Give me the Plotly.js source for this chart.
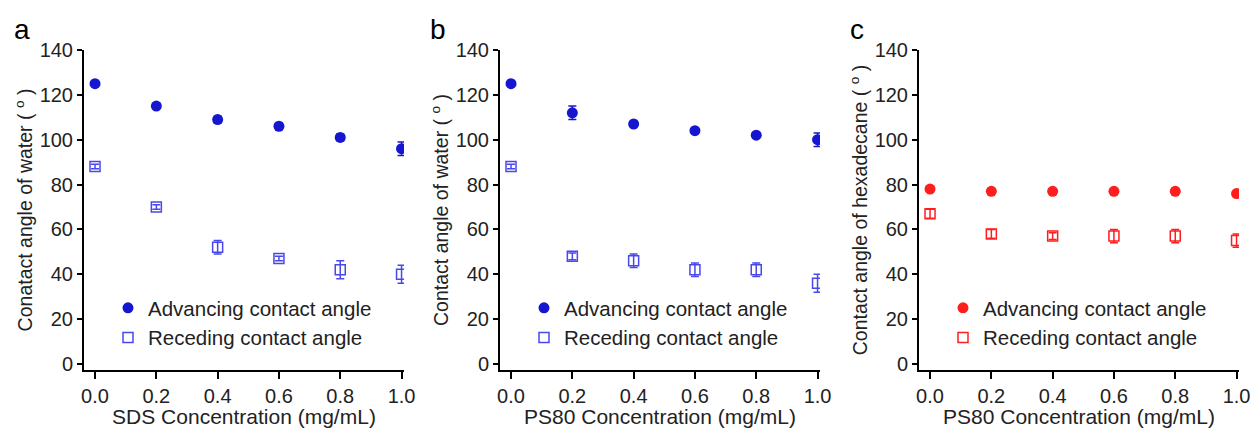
<!DOCTYPE html>
<html>
<head>
<meta charset="utf-8">
<script src="https://cdn.plot.ly/plotly-3.0.1.min.js"></script>
<style>html,body{margin:0;padding:0;background:#fff}#chart{width:1254px;height:428px}</style>
</head>
<body>
<div id="chart"></div>
<script>
// concentrations (mg/mL)
const conc = [0.0, 0.2, 0.4, 0.6, 0.8, 1.0];

// panel a: SDS, water
const aAdv    = [125, 115, 109, 106, 101, 96];
const aAdvErr = [1, 1, 1.5, 1.5, 1.5, 3];
const aRec    = [88, 70, 52, 47, 42, 40];
const aRecErr = [1, 1, 3, 1, 4, 4];

// panel b: PS80, water
const bAdv    = [125, 112, 107, 104, 102, 100];
const bAdvErr = [1, 3, 1, 1, 1, 3];
const bRec    = [88, 48, 46, 42, 42, 36];
const bRecErr = [1, 1.5, 3, 3, 3, 4];

// panel c: PS80, hexadecane
const cAdv    = [78, 77, 77, 77, 77, 76];
const cAdvErr = [1, 1, 1, 1, 1, 1];
const cRec    = [67, 58, 57, 57, 57, 55];
const cRecErr = [2, 2, 1.5, 3, 3, 3];

const xTitles = ["SDS Concentration (mg/mL)", "PS80 Concentration (mg/mL)", "PS80 Concentration (mg/mL)"];
const yTitles = ["Conatact angle of water ( <sup>o</sup> )", "Contact angle of water ( <sup>o</sup> )", "Contact angle of hexadecane ( <sup>o</sup> )"];
const panelLetters = ["a", "b", "c"];
const advName = "Advancing contact angle";
const recName = "Receding contact angle";

const blueAdv = "rgb(22,22,208)";
const blueRec = "rgb(72,72,236)";
const redCol = "rgb(255,30,30)";

const W = 1254, H = 428;
const FONT = "Liberation Sans, Arial, sans-serif";
const TXT = "#222";
const panelsPx = [[84, 404], [500, 820], [919, 1239]];
const yTopPx = 50, yBotPx = 370;

const panels = [
  {adv: aAdv, advErr: aAdvErr, rec: aRec, recErr: aRecErr, cAdv: blueAdv, cRec: blueRec},
  {adv: bAdv, advErr: bAdvErr, rec: bRec, recErr: bRecErr, cAdv: blueAdv, cRec: blueRec},
  {adv: cAdv, advErr: cAdvErr, rec: cRec, recErr: cRecErr, cAdv: redCol, cRec: redCol}
];

const traces = [];
const layout = {
  width: W, height: H,
  margin: {l: 0, r: 0, t: 0, b: 0},
  paper_bgcolor: "#fff", plot_bgcolor: "rgba(0,0,0,0)",
  font: {family: FONT, size: 20, color: TXT},
  showlegend: true,
  annotations: []
};

panels.forEach((p, i) => {
  const n = i === 0 ? "" : String(i + 1);
  const xa = "x" + n, ya = "y" + n;
  const leg = "legend" + n;
  traces.push({
    x: conc, y: p.adv, xaxis: xa, yaxis: ya, type: "scatter", mode: "markers",
    name: advName, legend: leg, legendgroup: "adv" + i,
    marker: {symbol: "circle", size: 11, color: p.cAdv},
    error_y: {type: "data", array: p.advErr, visible: true, color: p.cAdv, thickness: 1.5, width: 4}
  });
  traces.push({
    x: conc, y: p.rec, xaxis: xa, yaxis: ya, type: "scatter", mode: "markers",
    name: recName, legend: leg, legendgroup: "rec" + i,
    marker: {symbol: "square-open", size: 10, color: p.cRec, line: {width: 1.5, color: p.cRec}},
    error_y: {type: "data", array: p.recErr, visible: true, color: p.cRec, thickness: 1.5, width: 4}
  });
  const [x0, x1] = panelsPx[i];
  layout["xaxis" + n] = {
    domain: [x0 / W, x1 / W], anchor: ya,
    range: [-0.036, 1.008], tickvals: conc, ticktext: conc.map(v => v.toFixed(1)),
    showline: true, linewidth: 2, linecolor: "#000", showgrid: false, zeroline: false,
    ticks: "outside", ticklen: 7, tickwidth: 2, tickcolor: "#000",
    tickfont: {size: 20, color: TXT, family: FONT},
    title: {text: xTitles[i], font: {size: 21, color: TXT, family: FONT}, standoff: 3}
  };
  layout["yaxis" + n] = {
    domain: [1 - yBotPx / H, 1 - yTopPx / H], anchor: xa,
    range: [-2.7, 140], tickvals: [0, 20, 40, 60, 80, 100, 120, 140],
    showline: true, linewidth: 2, linecolor: "#000", showgrid: false, zeroline: false,
    ticks: "outside", ticklen: 5, tickwidth: 2, tickcolor: "#000",
    tickfont: {size: 20, color: TXT, family: FONT},
    title: {text: yTitles[i], font: {size: 19.5, color: TXT, family: FONT}, standoff: 2}
  };
  layout[leg] = {
    x: (x0 + 24) / W, y: 1 - 288 / H, xanchor: "left", yanchor: "top",
    bgcolor: "rgba(0,0,0,0)", font: {size: 20.5, color: TXT, family: FONT},
    traceorder: "grouped", tracegroupgap: 0, itemwidth: 30
  };
  layout.annotations.push({
    text: panelLetters[i], xref: "paper", yref: "paper",
    x: (x0 - 62) / W, y: 1 - 30 / H, xanchor: "center", yanchor: "middle",
    showarrow: false, font: {size: 28, color: "#000", family: FONT}
  });
});

Plotly.newPlot("chart", traces, layout, {displayModeBar: false, staticPlot: true});
</script>
</body>
</html>
